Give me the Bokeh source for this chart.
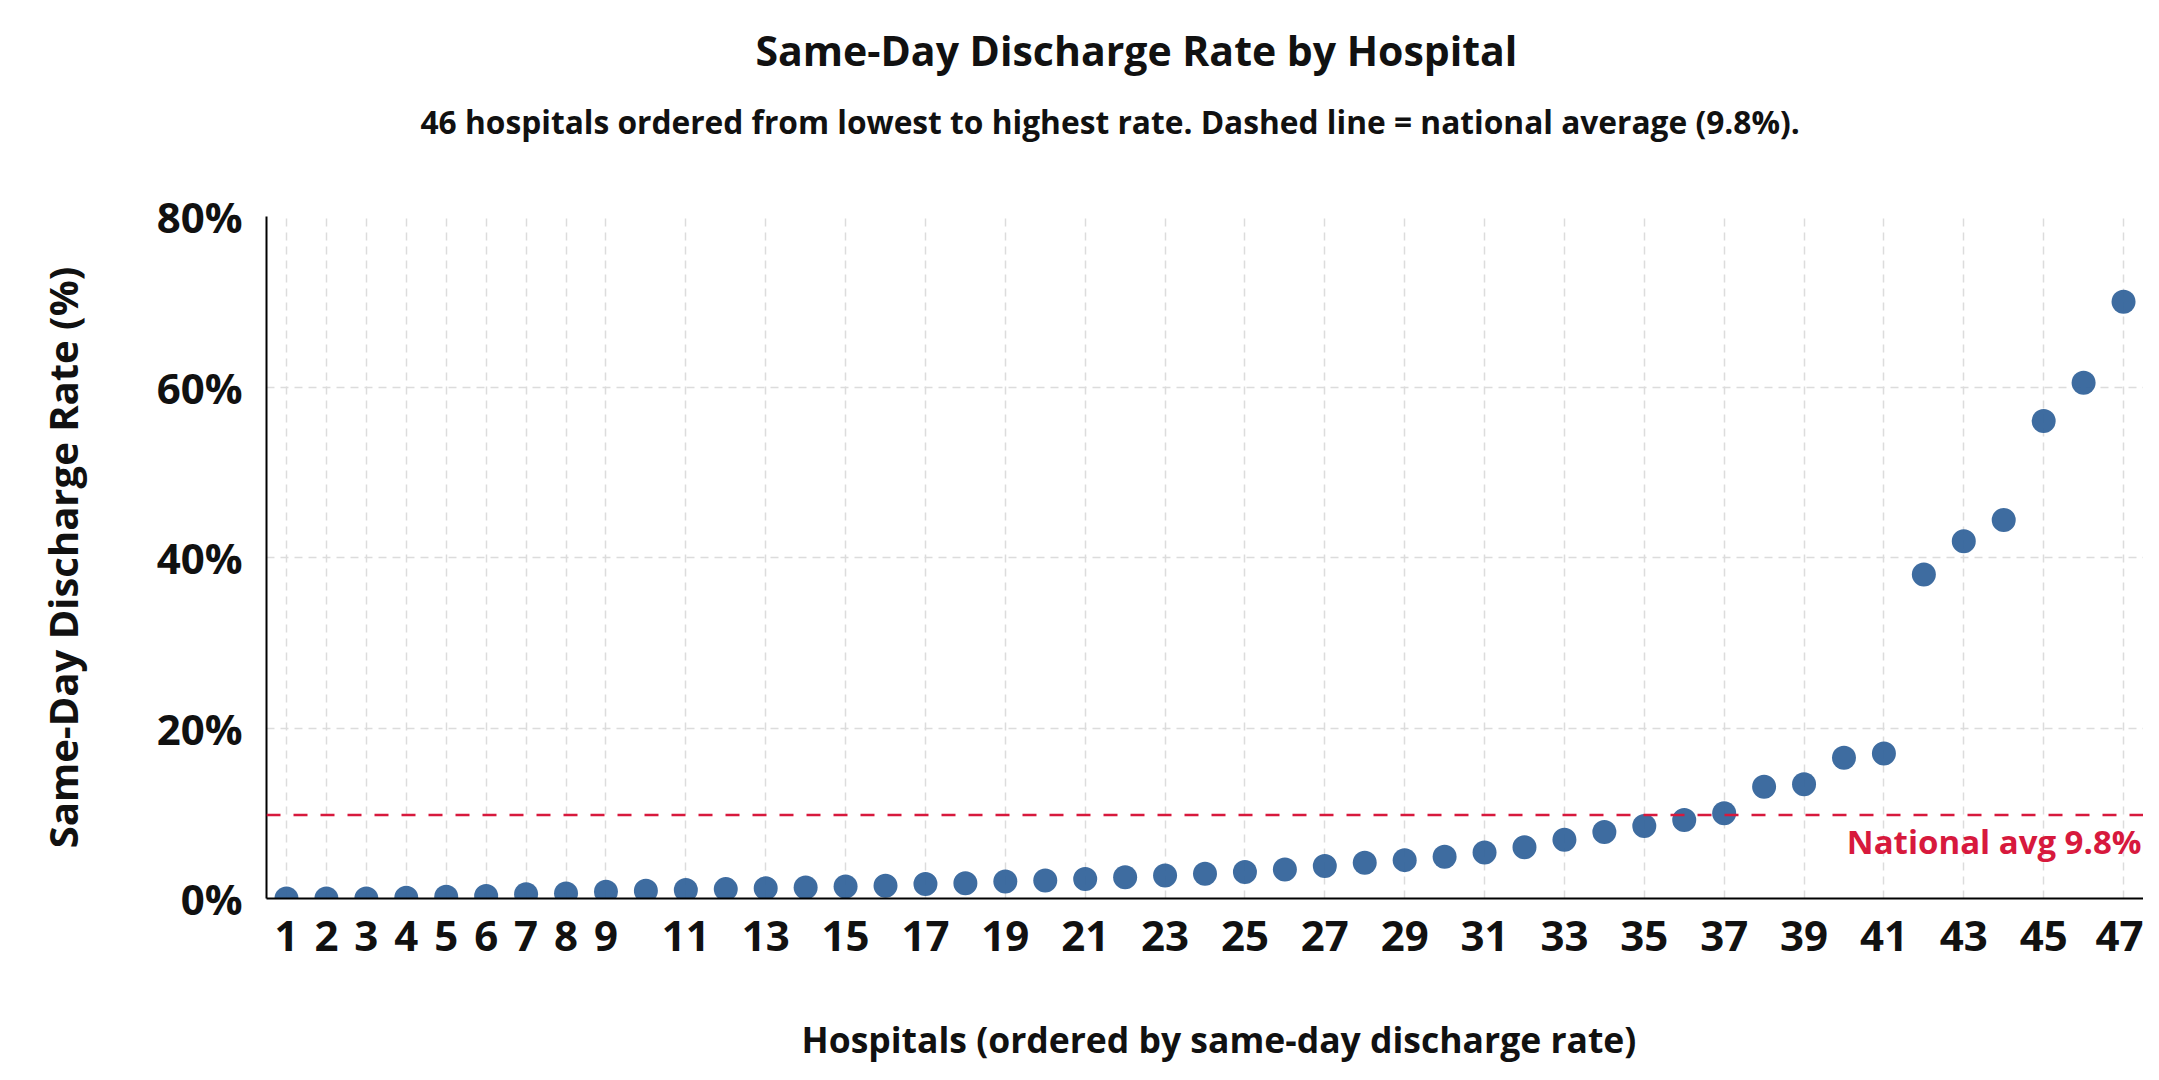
from bokeh.plotting import figure
from bokeh.models import (Title, Span, Label, FixedTicker, Range1d, CustomJSTickFormatter,
                          ColumnDataSource)
from bokeh.embed import file_html
from bokeh.resources import INLINE

# ---- data ----
hospital_rank = list(range(1, 48))
discharge_rate = [0.0, 0.0, 0.0, 0.1, 0.2, 0.3, 0.5, 0.6, 0.8, 0.9,
                  1.0, 1.1, 1.2, 1.3, 1.4, 1.5, 1.7, 1.8, 2.0, 2.1,
                  2.3, 2.5, 2.7, 2.9, 3.1, 3.4, 3.8, 4.2, 4.5, 4.9,
                  5.4, 6.0, 6.9, 7.8, 8.5, 9.2, 10.0, 13.1, 13.4, 16.5,
                  17.0, 38.0, 41.9, 44.4, 56.0, 60.5, 70.0]
x_ticks = [1, 2, 3, 4, 5, 6, 7, 8, 9] + list(range(11, 48, 2))
y_ticks = [0, 20, 40, 60, 80]
national_avg = 9.8

TITLE = "Same-Day Discharge Rate by Hospital"
SUBTITLE = "46 hospitals ordered from lowest to highest rate. Dashed line = national average (9.8%)."
X_LABEL = "Hospitals (ordered by same-day discharge rate)"
Y_LABEL = "Same-Day Discharge Rate (%)"
AVG_LABEL = "National avg 9.8%"

FONT = "Open Sans"
INK = "#111111"
RED = "#d7193d"

src = ColumnDataSource(dict(x=hospital_rank, y=discharge_rate))

p = figure(width=2143, height=1064, output_backend="svg", toolbar_location=None,
           x_range=Range1d(0.5, 47.5), y_range=Range1d(0, 80), title=None,
           min_border_left=266, min_border_right=0, min_border_top=0, min_border_bottom=0)

# stacked upward from the plot area: spacer, subtitle, title, top spacer
p.add_layout(Title(text=" ", text_font=FONT, text_font_size="10px", standoff=53), "above")
p.add_layout(Title(text=SUBTITLE, align="left", offset=154, text_font=FONT, text_font_size="31.7px",
                   text_font_style="bold", text_color=INK, standoff=10), "above")
p.add_layout(Title(text=TITLE, align="left", offset=489, text_font=FONT, text_font_size="41px",
                   text_font_style="bold", text_color=INK, standoff=29), "above")
p.add_layout(Title(text=" ", text_font=FONT, text_font_size="2px", standoff=0), "above")

p.outline_line_color = None
p.background_fill_color = "white"
p.border_fill_color = "white"

# grids
p.xgrid.ticker = FixedTicker(ticks=x_ticks)
p.ygrid.ticker = FixedTicker(ticks=y_ticks)
for g in (p.xgrid, p.ygrid):
    g.grid_line_color = "#dcdcdc"
    g.grid_line_dash = "8 6"
    g.grid_line_width = 1.5

# axes
p.xaxis.ticker = FixedTicker(ticks=x_ticks)
p.yaxis.ticker = FixedTicker(ticks=y_ticks)
p.yaxis.formatter = CustomJSTickFormatter(code="return tick.toFixed(0) + '%';")
for ax in (p.xaxis, p.yaxis):
    ax.axis_line_color = "black"
    ax.axis_line_width = 2
    ax.major_tick_line_color = None
    ax.minor_tick_line_color = None
    ax.major_tick_out = 0
    ax.major_tick_in = 0
    ax.major_label_text_font = FONT
    ax.major_label_text_font_size = "42px"
    ax.major_label_text_font_style = "bold"
    ax.major_label_text_color = INK
    ax.axis_label_text_font = FONT
    ax.axis_label_text_font_style = "bold"
    ax.axis_label_text_color = INK
p.xaxis.major_label_standoff = 22
p.yaxis.major_label_standoff = 24
p.yaxis.axis_label = Y_LABEL
p.yaxis.axis_label_text_font_size = "40px"
p.yaxis.axis_label_standoff = 64

# below the x axis: spacer, then the x-axis title
p.add_layout(Title(text=" ", text_font=FONT, text_font_size="10px", standoff=41), "below")
p.add_layout(Title(text=X_LABEL, align="left", offset=535, text_font=FONT, text_font_size="35.5px",
                   text_font_style="bold", text_color=INK, standoff=4), "below")

# national average line
p.add_layout(Span(location=national_avg, dimension="width", line_color=RED,
                  line_dash="14 13", line_width=2.5))

p.scatter("x", "y", source=src, size=24, marker="circle",
          fill_color="#34649b", line_color=None, fill_alpha=0.95)

p.add_layout(Label(x=47.5, y=national_avg, text=AVG_LABEL, text_align="right",
                   text_baseline="top", x_offset=-2, y_offset=-4,
                   text_font=FONT, text_font_size="33px", text_font_style="bold",
                   text_color=RED))

open("out.html", "w").write(file_html(p, INLINE))
